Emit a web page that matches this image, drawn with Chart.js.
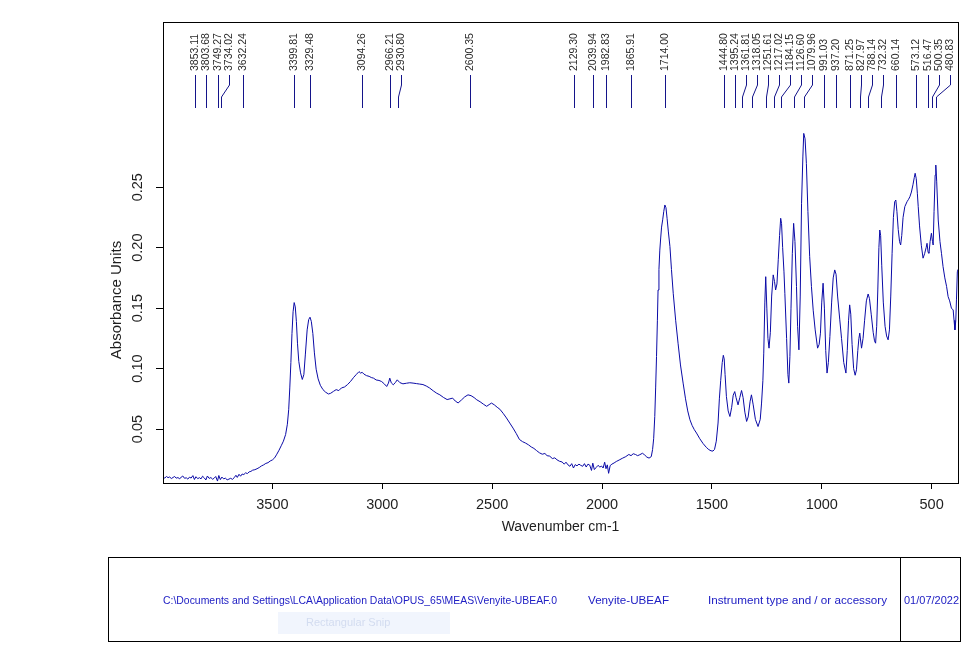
<!DOCTYPE html>
<html>
<head>
<meta charset="utf-8">
<title>Venyite-UBEAF IR spectrum</title>
<script src="https://cdn.jsdelivr.net/npm/chart.js@4.4.1/dist/chart.umd.min.js"></script>
<style>
  html, body { margin: 0; padding: 0; background: #fff; }
  #wrap { position: relative; width: 977px; height: 649px; }
</style>
</head>
<body>
<div id="wrap"><canvas id="spectrum"></canvas></div>
<script>
// axis ranges and ticks (wavenumber axis runs high -> low)
var xMin = 380, xMax = 3998;
var yMin = 0.0054, yMax = 0.3866;
var xTicks = [3500, 3000, 2500, 2000, 1500, 1000, 500];
var yTicks = [0.05, 0.10, 0.15, 0.20, 0.25];

// spectrum, [wavenumber, absorbance]
var baselineRegion = [
  [3998,0.0102],[3990,0.0095],[3982,0.0108],[3975,0.0098],[3968,0.0104],[3960,0.0091],[3952,0.0100],
  [3945,0.0108],[3938,0.0094],[3930,0.0099],[3922,0.0088],[3915,0.0103],[3908,0.0112],[3900,0.0093],
  [3892,0.0097],[3885,0.0086],[3878,0.0102],[3870,0.0095],[3862,0.0115],[3855,0.0083],[3848,0.0106],
  [3840,0.0090],[3832,0.0098],[3825,0.0088],[3818,0.0110],[3810,0.0096],[3803,0.0079],[3796,0.0112],
  [3788,0.0092],[3780,0.0099],[3772,0.0085],[3765,0.0094],[3758,0.0108],[3750,0.0070],[3744,0.0116],
  [3737,0.0082],[3730,0.0103],[3722,0.0088],[3714,0.0094],[3706,0.0080],[3698,0.0086],[3690,0.0093],
  [3682,0.0084],[3674,0.0098],[3666,0.0118],[3660,0.0100],[3652,0.0126],[3645,0.0110],[3638,0.0128]
];
var hydroxylRegion = [
  [3630,0.0124],[3622,0.0138],[3614,0.0132],[3606,0.0146],[3598,0.0150],[3590,0.0160],[3580,0.0164],
  [3570,0.0172],[3560,0.0182],[3550,0.0195],[3540,0.0204],[3530,0.0216],[3520,0.0222],[3510,0.0236],
  [3500,0.0245],[3490,0.0262],[3480,0.0292],[3470,0.0325],[3460,0.0362],[3450,0.0400],[3440,0.0455],
  [3432,0.0540],[3426,0.0660],[3421,0.0840],[3416,0.1050],[3411,0.1290],[3406,0.1470],[3401,0.1546],
  [3396,0.1510],[3391,0.1390],[3386,0.1210],[3380,0.1060],[3372,0.0965],[3364,0.0910],[3357,0.0950],
  [3350,0.1120],[3342,0.1320],[3335,0.1405],[3329,0.1425],[3323,0.1390],[3316,0.1290],[3309,0.1130],
  [3301,0.0995],[3292,0.0915],[3282,0.0862],[3270,0.0826],[3258,0.0805],[3245,0.0790],[3235,0.0796]
];
var broadRegion = [
  [3222,0.0812],[3210,0.0826],[3198,0.0818],[3186,0.0840],[3172,0.0848],[3158,0.0868],[3144,0.0895],
  [3130,0.0928],[3118,0.0952],[3106,0.0975],[3098,0.0962],[3092,0.0970],[3084,0.0955],[3072,0.0942],
  [3060,0.0936],[3050,0.0926],[3040,0.0921],[3028,0.0906],[3015,0.0902],[3003,0.0893],[2990,0.0872],
  [2980,0.0852],[2972,0.0880],[2966,0.0921],[2959,0.0882],[2950,0.0866],[2940,0.0886],[2932,0.0907],
  [2920,0.0884],[2906,0.0874],[2890,0.0879],[2875,0.0883],[2860,0.0880],[2845,0.0876],[2830,0.0872],
  [2815,0.0868],[2800,0.0856],[2785,0.0840],[2768,0.0816],[2752,0.0796],[2738,0.0783],[2722,0.0762],
  [2705,0.0744],[2692,0.0750],[2680,0.0756],[2668,0.0732],[2655,0.0716],[2640,0.0740],[2625,0.0766],
  [2610,0.0783],[2596,0.0776],[2582,0.0760],[2570,0.0742],[2555,0.0726],[2540,0.0706],[2525,0.0688],
  [2514,0.0702],[2503,0.0715],[2490,0.0700],[2477,0.0680],[2465,0.0664],[2450,0.0630],[2435,0.0592],
  [2420,0.0550],[2405,0.0508]
];
var lowRegion = [
  [2390,0.0462],[2376,0.0414],[2362,0.0396],[2348,0.0384],[2335,0.0370],[2322,0.0352],[2310,0.0340],
  [2298,0.0322],[2285,0.0304],[2272,0.0292],[2260,0.0298],[2250,0.0280],[2238,0.0276],[2226,0.0256],
  [2215,0.0262],[2205,0.0246],[2194,0.0234],[2182,0.0228],[2172,0.0210],[2164,0.0226],[2155,0.0204],
  [2146,0.0192],[2138,0.0214],[2130,0.0178],[2122,0.0206],[2114,0.0196],[2105,0.0210],[2097,0.0200],
  [2088,0.0192],[2080,0.0214],[2072,0.0186],[2064,0.0210],[2056,0.0202],[2048,0.0158],[2042,0.0218],
  [2035,0.0165],[2027,0.0182],[2018,0.0200],[2010,0.0186],[2002,0.0194],[1995,0.0178],[1988,0.0226],
  [1982,0.0172],[1976,0.0204],[1970,0.0134],[1963,0.0198],[1955,0.0210],[1945,0.0220],[1935,0.0232],
  [1922,0.0244],[1908,0.0258],[1892,0.0272],[1878,0.0290],[1868,0.0280],[1858,0.0296],[1848,0.0290],
  [1838,0.0280],[1828,0.0288],[1816,0.0300],[1806,0.0286],[1796,0.0268],[1786,0.0260],[1776,0.0272]
];
var carbonylRegion = [
  [1770,0.0330],[1765,0.0420],[1760,0.0604],[1756,0.0840],[1752,0.1100],[1748,0.1400],[1745,0.1650],
  [1741,0.1820],[1737,0.1980],[1733,0.2080],[1729,0.2170],[1724,0.2230],[1719,0.2300],[1714,0.2353],
  [1709,0.2330],[1704,0.2243],[1698,0.2130],[1691,0.2010],[1684,0.1820],[1676,0.1623],[1665,0.1400],
  [1654,0.1210],[1643,0.1030],[1631,0.0880],[1620,0.0750],[1610,0.0650],[1600,0.0577],[1590,0.0530],
  [1580,0.0495],[1570,0.0467],[1555,0.0420],[1540,0.0380],[1525,0.0348],[1514,0.0330],[1504,0.0320],
  [1495,0.0318],[1488,0.0332]
];
var fingerprintRegion = [
  [1480,0.0400],[1472,0.0550],[1466,0.0750],[1460,0.0900],[1453,0.1050],[1448,0.1110],[1444,0.1080],
  [1440,0.0950],[1434,0.0770],[1426,0.0650],[1418,0.0604],[1410,0.0680],[1403,0.0780],[1396,0.0810],
  [1390,0.0760],[1381,0.0700],[1373,0.0760],[1365,0.0819],[1358,0.0760],[1350,0.0640],[1342,0.0563],
  [1335,0.0600],[1326,0.0730],[1320,0.0783],[1312,0.0700],[1302,0.0580],[1290,0.0521],[1280,0.0580],
  [1274,0.0715],[1268,0.0900],[1264,0.1128],[1259,0.1550],[1255,0.1760],[1250,0.1500],[1245,0.1250],
  [1240,0.1169],[1234,0.1300],[1228,0.1600],[1221,0.1775],[1215,0.1720],[1210,0.1650],[1204,0.1700],
  [1198,0.1900],[1192,0.2100],[1187,0.2243],[1183,0.2200],[1178,0.2000],[1172,0.1800],[1168,0.1623],
  [1160,0.1250],[1154,0.0950],[1150,0.0880],[1145,0.1100],[1140,0.1500],[1134,0.1950],[1128,0.2201],
  [1122,0.2050],[1115,0.1678],[1110,0.1350],[1104,0.1155],[1098,0.1600],[1092,0.2367],[1086,0.2750],
  [1082,0.2945],[1076,0.2900],[1070,0.2697],[1063,0.2300],[1055,0.1925],[1047,0.1680],[1039,0.1483],
  [1030,0.1320],[1019,0.1169],[1012,0.1200],[1006,0.1293]
];
var lowWaveRegion = [
  [1000,0.1550],[994,0.1706],[988,0.1500],[982,0.1150],[976,0.0963],[970,0.1050],[963,0.1265],
  [955,0.1550],[948,0.1750],[941,0.1816],[935,0.1780],[928,0.1600],[918,0.1403],[910,0.1250],
  [900,0.1050],[890,0.0963],[884,0.1150],[878,0.1400],[873,0.1527],[868,0.1450],[862,0.1200],
  [855,0.1000],[848,0.0945],[842,0.0990],[836,0.1150],[831,0.1250],[827,0.1293],[819,0.1169],
  [812,0.1250],[805,0.1400],[797,0.1560],[789,0.1617],[783,0.1580],[775,0.1450],[766,0.1300],
  [760,0.1230],[755,0.1210],[750,0.1350],[745,0.1650],[740,0.2000],[736,0.2146],[732,0.2100],
  [727,0.1850],[720,0.1550],[712,0.1350],[705,0.1270],[698,0.1238],[692,0.1320],[686,0.1600],
  [680,0.1950],[674,0.2250],[668,0.2380],[663,0.2394],[658,0.2300],[652,0.2150],[646,0.2050],
  [641,0.2022],[636,0.2100],[630,0.2250],[622,0.2339],[612,0.2380],[605,0.2400],[599,0.2421],
  [592,0.2460],[585,0.2520],[579,0.2580],[575,0.2615],[570,0.2570],[565,0.2450],[561,0.2339],
  [555,0.2180],[547,0.2020],[539,0.1913],[532,0.1950],[525,0.2000],[521,0.2036],[516,0.1960],
  [512,0.1954],[507,0.2050],[501,0.2119],[496,0.2050],[493,0.2022],[489,0.2300],[484,0.2600],
  [481,0.2683],[477,0.2550],[470,0.2229],[462,0.2050],[455,0.1950],[448,0.1843],[440,0.1750],
  [432,0.1680],[425,0.1595],[418,0.1560],[410,0.1500],[402,0.1485],[398,0.1400],[394,0.1320],
  [390,0.1400],[387,0.1568],[383,0.1800],[380,0.1820]
];

// picked peaks (labels on top)
var peakPositions = [3853.11, 3803.68, 3749.27, 3734.02, 3632.24, 3399.81, 3329.48, 3094.26,
  2966.21, 2930.80, 2600.35, 2129.30, 2039.94, 1982.83, 1865.91, 1714.00, 1444.80, 1395.24,
  1361.81, 1318.05, 1251.61, 1217.02, 1184.15, 1126.60, 1079.96, 991.03, 937.20, 871.25,
  827.97, 788.14, 732.32, 660.14, 573.12, 516.47, 500.35, 480.83];

// footer box texts
var infoTexts = ['C:\\Documents and Settings\\LCA\\Application Data\\OPUS_65\\MEAS\\Venyite-UBEAF.0',
  'Venyite-UBEAF', 'Instrument type and / or accessory', '01/07/2022'];

var FONT = '"Liberation Sans", Arial, sans-serif';
var lineBlue = '#0a0aa6';

var spectrum = [].concat(baselineRegion, hydroxylRegion, broadRegion, lowRegion,
  carbonylRegion, fingerprintRegion, lowWaveRegion).map(function (p) {
  return { x: p[0], y: p[1] };
});

// squeeze a text horizontally so it spans a given width
function fitText(ctx, text, x, y, width) {
  var w = ctx.measureText(text).width;
  ctx.save();
  ctx.translate(x, y);
  ctx.scale(width / w, 1);
  ctx.fillText(text, 0, 0);
  ctx.restore();
}

var decorPlugin = {
  id: 'decor',
  afterDraw: function (chart) {
    var ctx = chart.ctx;
    var area = chart.chartArea;
    var xs = chart.scales.x;
    var ys = chart.scales.y;
    ctx.save();

    // plot frame
    ctx.strokeStyle = '#000';
    ctx.lineWidth = 1;
    ctx.strokeRect(Math.round(area.left) + 0.5, Math.round(area.top) + 0.5,
      Math.round(area.right - area.left), Math.round(area.bottom - area.top));

    // rotated y tick labels
    ctx.fillStyle = '#1e1e1e';
    ctx.font = '14.5px ' + FONT;
    ctx.textAlign = 'center';
    ctx.textBaseline = 'middle';
    yTicks.forEach(function (v) {
      ctx.save();
      ctx.translate(area.left - 25, ys.getPixelForValue(v));
      ctx.rotate(-Math.PI / 2);
      ctx.fillText(v.toFixed(2), 0, 0);
      ctx.restore();
    });

    // axis titles
    ctx.font = '14px ' + FONT;
    ctx.fillText('Wavenumber cm-1', (area.left + area.right) / 2, area.bottom + 44);
    ctx.save();
    ctx.translate(area.left - 46, 300);
    ctx.rotate(-Math.PI / 2);
    ctx.font = '15px ' + FONT;
    ctx.fillText('Absorbance Units', 0, 0);
    ctx.restore();

    // peak labels: push crowded labels to the right
    var gap = 11;
    var placed = [];
    peakPositions.forEach(function (w, i) {
      var px = xs.getPixelForValue(w);
      var tx = px;
      if (i > 0 && tx < placed[i - 1].tx + gap) tx = placed[i - 1].tx + gap;
      placed.push({ px: px, tx: tx, text: w.toFixed(2) });
    });
    ctx.strokeStyle = '#14148a';
    ctx.lineWidth = 1;
    placed.forEach(function (p) {
      var a = Math.round(p.tx) + 0.5, b = Math.round(p.px) + 0.5;
      ctx.beginPath();
      ctx.moveTo(a, 75);
      if (Math.abs(a - b) < 1) {
        ctx.lineTo(a, 108);
      } else {
        ctx.lineTo(a, 85);
        ctx.lineTo(b, 97);
        ctx.lineTo(b, 108);
      }
      ctx.stroke();
    });
    ctx.fillStyle = '#2a2a2a';
    ctx.font = '10.5px ' + FONT;
    ctx.textAlign = 'left';
    placed.forEach(function (p) {
      ctx.save();
      ctx.translate(Math.round(p.tx) + 0.5, 71);
      ctx.rotate(-Math.PI / 2);
      ctx.fillText(p.text, 0, 0);
      ctx.restore();
    });

    // footer box
    ctx.strokeStyle = '#000';
    ctx.strokeRect(108.5, 557.5, 852, 84);
    ctx.beginPath();
    ctx.moveTo(900.5, 557.5);
    ctx.lineTo(900.5, 641.5);
    ctx.stroke();

    // faint screen-snip leftover
    ctx.fillStyle = '#f1f5fd';
    ctx.fillRect(278, 612, 172, 22);
    ctx.fillStyle = '#d3dcf0';
    ctx.font = '11px ' + FONT;
    ctx.textAlign = 'left';
    ctx.fillText('Rectangular Snip', 306, 623);

    ctx.fillStyle = '#2020c4';
    ctx.font = '11px ' + FONT;
    fitText(ctx, infoTexts[0], 163, 601, 394);
    fitText(ctx, infoTexts[1], 588, 601, 81);
    fitText(ctx, infoTexts[2], 708, 601, 179);
    fitText(ctx, infoTexts[3], 904, 601, 55);

    ctx.restore();
  }
};

new Chart(document.getElementById('spectrum'), {
  type: 'line',
  data: {
    datasets: [{
      label: 'Venyite-UBEAF',
      data: spectrum,
      borderColor: lineBlue,
      borderWidth: 1,
      pointRadius: 0,
      tension: 0,
      fill: false
    }]
  },
  options: {
    responsive: true,
    maintainAspectRatio: false,
    animation: false,
    layout: { padding: { top: 22, right: 19, left: 0, bottom: 0 } },
    plugins: {
      legend: { display: false },
      tooltip: { enabled: false }
    },
    scales: {
      x: {
        type: 'linear',
        reverse: true,
        min: xMin,
        max: xMax,
        afterBuildTicks: function (s) { s.ticks = xTicks.map(function (v) { return { value: v }; }); },
        afterFit: function (s) { s.height = 166; },
        ticks: {
          font: { size: 14.5, family: FONT },
          color: '#1e1e1e',
          padding: 7,
          maxRotation: 0,
          autoSkip: false,
          callback: function (v) { return String(v); }
        },
        grid: { drawOnChartArea: false, tickLength: 6, color: '#000' },
        border: { color: '#000', width: 1 }
      },
      y: {
        min: yMin,
        max: yMax,
        afterBuildTicks: function (s) { s.ticks = yTicks.map(function (v) { return { value: v }; }); },
        afterFit: function (s) { s.width = 163; },
        ticks: { display: false },
        grid: { drawOnChartArea: false, tickLength: 7, color: '#000' },
        border: { color: '#000', width: 1 }
      }
    }
  },
  plugins: [decorPlugin]
});
</script>
</body>
</html>
